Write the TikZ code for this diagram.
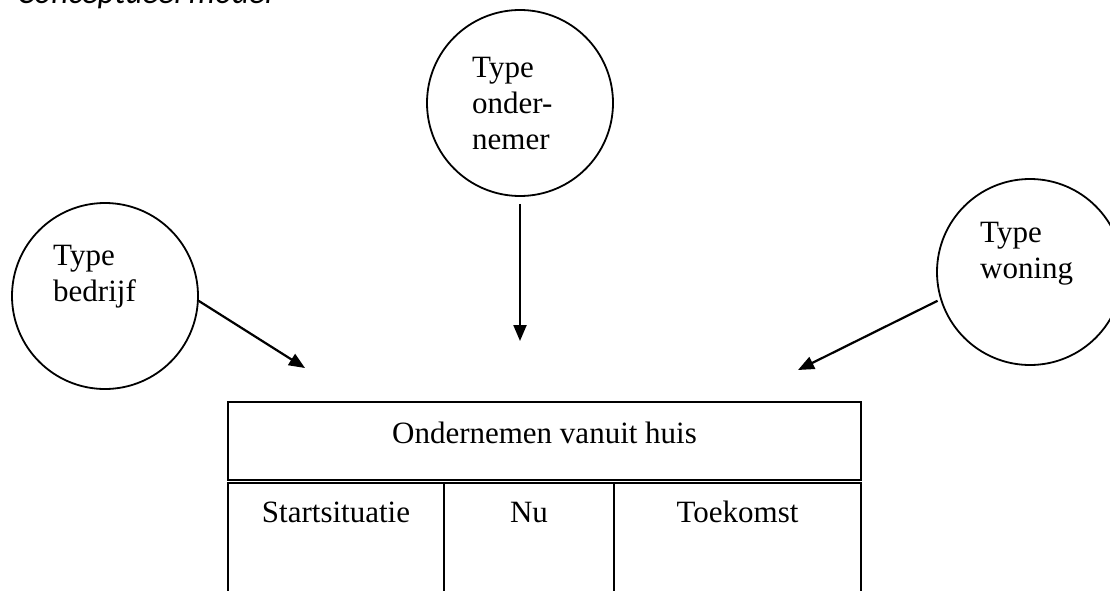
\documentclass[tikz,border=0pt]{standalone}
\usepackage{fontspec}
\setmainfont{Liberation Serif}
\newfontfamily\headfont{Carlito}
\usetikzlibrary{calc, positioning, arrows.meta}

\begin{document}
\begin{tikzpicture}[x=1pt, y=-1pt, node distance=0pt,
      bol/.style  = {circle, draw, line width=1.8pt, minimum size=186pt, inner sep=0pt},
      txt/.style  = {align=left, inner sep=0pt, anchor=north west,
                     font=\fontsize{31}{36}\selectfont},
      vak/.style  = {draw, line width=2.4pt, inner sep=0pt, outer sep=0pt,
                     font=\fontsize{31}{36}\selectfont},
      cel/.style  = {vak, minimum height=130pt, text height=39pt, text depth=91pt},
      pijl/.style = {line width=2.2pt, -{Triangle[length=16pt, width=13pt]}} ]
\useasboundingbox (0,0) rectangle (1110,591);

% kop
\node (titel) [anchor=base west, inner sep=0pt,
               font=\headfont\itshape\fontsize{33}{40}\selectfont] at (17,4) {Conceptueel model};

% cirkels
\node (bedrijf)    [bol] at (105,296) {};
\node (ondernemer) [bol] at (520,103) {};
\node (woning)     [bol] at (1030,272) {};
\node (tbedrijf)    [txt] at ($(bedrijf.center)+(-52,-51)$)    {Type\\bedrijf};
\node (tondernemer) [txt] at ($(ondernemer.center)+(-48,-46)$) {Type\\onder-\\nemer};
\node (twoning)     [txt] at ($(woning.center)+(-50,-50)$)     {Type\\woning};

% tabel
\node (kop) [vak, minimum width=633pt, minimum height=78pt, text height=21pt,
             text depth=17pt, anchor=north west] at (228,402) {Ondernemen vanuit huis};
\node (start)    [cel, minimum width=216pt, anchor=north west] at (228,483) {Startsituatie};
\node (nu)       [cel, minimum width=170pt, right=of start] {Nu};
\node (toekomst) [cel, minimum width=247pt, right=of nu] {Toekomst};

% pijlen
\coordinate (pb) at (305,368);
\coordinate (po) at (520,341);
\coordinate (pw) at (798,370);
\draw[pijl] (bedrijf.-3) -- (pb);
\draw[pijl, shorten <=7pt] (ondernemer.south) -- (po);
\draw[pijl, shorten <=3pt] (woning.197) -- (pw);
\end{tikzpicture}
\end{document}
